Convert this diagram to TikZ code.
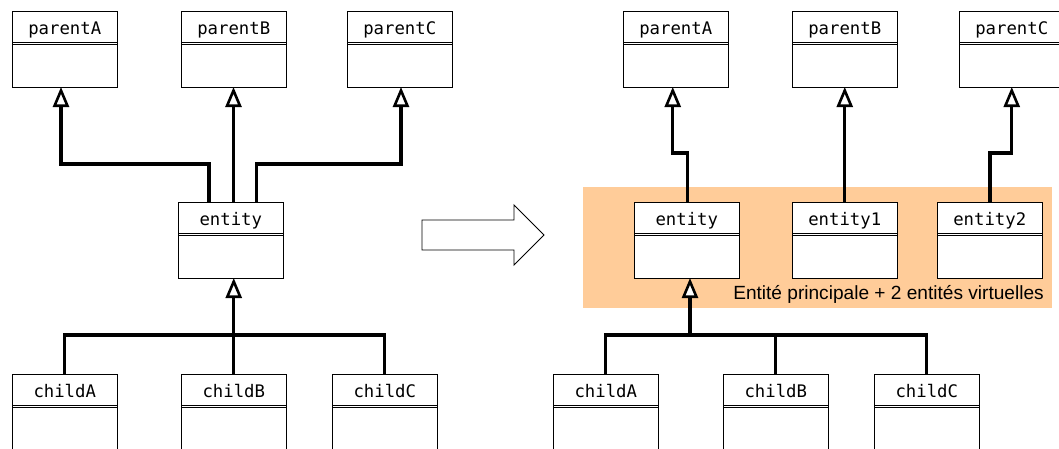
\documentclass[tikz,border=0pt]{standalone}
\usepackage{fontspec}
\newfontfamily\monof{DejaVu Sans Mono}
\newfontfamily\labelf{Liberation Sans}
\usetikzlibrary{arrows.meta,calc}
\definecolor{peach}{RGB}{255,204,153}
\tikzset{
  clsbox/.style={draw=black, line width=1pt, fill=white, minimum width=105.5pt, minimum height=76pt, inner sep=0pt, outer sep=0pt, anchor=north west},
  clstext/.style={inner sep=0pt, anchor=base, font=\monof\fontsize{17.3}{20}\selectfont},
  clsline/.style={draw=black, line width=0.9pt},
  conn/.style={line width=3.2pt},
  gen/.style={line width=3.2pt, -{Triangle[fill=white, length=20pt, width=16pt, line width=2.6pt]}},
  bigarrow/.style={draw=black, line width=0.9pt, fill=white},
}
\newcommand{\umlcls}[4]{%
  \node[clsbox] (#1) at (#2,#3) {};
  \node[clstext] (#1-name) at ($(#1.north west)+(52.75,23.3)$) {#4};
  \draw[clsline] ($(#1.north west)+(0,31.2)$) -- ($(#1.north east)+(0,31.2)$);
  \draw[clsline] ($(#1.north west)+(0,33.8)$) -- ($(#1.north east)+(0,33.8)$);
}
\begin{document}
\begin{tikzpicture}[x=1pt,y=-1pt]
\fill[white] (0,0) rectangle (1059,448);
\useasboundingbox (0,0) rectangle (1059,448);
% orange group
\fill[peach] (583,187) rectangle (1052,307.5);
\node[anchor=base east, inner sep=0pt, font=\labelf\fontsize{19.1}{22}\selectfont] (lbl) at (1044,299) {Entité principale + 2 entités virtuelles};
% big arrow
\draw[bigarrow] (422,220) -- (514,220) -- (514,205) -- (544,235) -- (514,265) -- (514,250) -- (422,250) -- cycle;
% left boxes
\umlcls{pA}{12}{11}{parentA}
\umlcls{pB}{181}{11}{parentB}
\umlcls{pC}{347}{11}{parentC}
\umlcls{ent}{178}{202}{entity}
\umlcls{cA}{12}{374}{childA}
\umlcls{cB}{181}{374}{childB}
\umlcls{cC}{332}{374}{childC}
% right boxes
\umlcls{pA2}{623}{11}{parentA}
\umlcls{pB2}{792}{11}{parentB}
\umlcls{pC2}{959}{11}{parentC}
\umlcls{e0}{634}{202}{entity}
\umlcls{e1}{792}{202}{entity1}
\umlcls{e2}{937}{202}{entity2}
\umlcls{cA2}{553}{374}{childA}
\umlcls{cB2}{723}{374}{childB}
\umlcls{cC2}{874}{374}{childC}
% left connectors
\draw[gen] ([xshift=-21.75pt]ent.north) -- ++(0,-38) -| ([xshift=-3.75pt]pA.south);
\draw[gen] ([xshift=2.75pt]ent.north) -- ([xshift=2.75pt]ent.north |- pB.south);
\draw[gen] ([xshift=25.75pt]ent.north) -- ++(0,-38) -| ([xshift=1.25pt]pC.south);
\draw[conn] (cA.north) -- ++(0,-39) -| (cC.north);
\draw[gen] (cB.north) -- ([xshift=3pt]ent.south |- cB.north) -- ([xshift=3pt]ent.south);
% right connectors
\draw[gen] ([xshift=1pt]e0.north) -- ++(0,-49) -| ([xshift=-3pt]pA2.south);
\draw[gen] (e1.north) -- (pB2.south);
\draw[gen] ([xshift=0.25pt]e2.north) -- ++(0,-49) -| (pC2.south);
\draw[conn] (cA2.north) -- ++(0,-39) -| (cC2.north);
\draw[conn] (cB2.north) -- ++(0,-39);
\draw[gen] ([xshift=3.25pt]e0.south |- cA2.north) ++(0,-39) -- ([xshift=3.25pt]e0.south);
\end{tikzpicture}
\end{document}
